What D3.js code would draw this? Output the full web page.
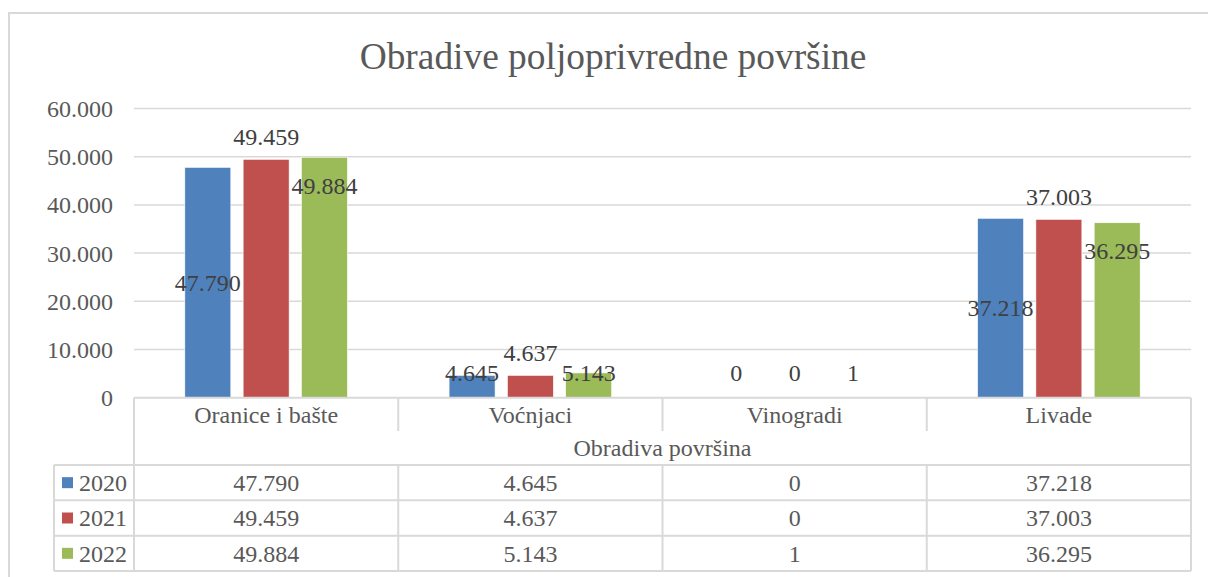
<!DOCTYPE html>
<html lang="en">
<head>
    <meta charset="UTF-8">
    <title>Obradive poljoprivredne površine</title>
    <script src="https://d3js.org/d3.v7.min.js"></script>
    <style>
        body {
            margin: 0;
            background: #ffffff;
        }

        .grid line {
            stroke: #d9d9d9;
            stroke-width: 1.5px;
        }

        .tbl {
            stroke: #d9d9d9;
            stroke-width: 2px;
        }

        .axis-label {
            fill: #595959;
        }

        .value-label {
            fill: #404040;
        }
    </style>
</head>
<body>
<div id="chart"></div>

<script>
    // data
    var chartTitle = "Obradive poljoprivredne površine";
    var groupLabel = "Obradiva površina";
    var categories = ["Oranice i bašte", "Voćnjaci", "Vinogradi", "Livade"];
    var years = ["2020", "2021", "2022"];
    var values2020 = [47790, 4645, 0, 37218];
    var values2021 = [49459, 4637, 0, 37003];
    var values2022 = [49884, 5143, 1, 36295];
    var yTicks = [0, 10000, 20000, 30000, 40000, 50000, 60000];
    var colors = ["#4f81bd", "#c0504d", "#9bbb59"];

    var seriesValues = [values2020, values2021, values2022];

    var w = 1208;
    var h = 577;

    var plotLeft = 134;
    var plotRight = 1191;
    var legendLeft = 54;

    var serif = "'Liberation Serif'";
    var fs = "24px";

    var fmt = d3.formatLocale({
        decimal: ",",
        thousands: ".",
        grouping: [3],
        currency: ["", ""]
    }).format(",d");

    var xScale = d3.scaleBand()
        .domain(categories)
        .range([plotLeft, plotRight]);

    var xSub = d3.scaleBand()
        .domain(years)
        .range([0, xScale.bandwidth()])
        .paddingInner(0.211)
        .paddingOuter(0.872);

    var yScale = d3.scaleLinear()
        .domain([0, 60000])
        .range([397.7, 108.5]);

    // table rows below the axis
    var catRowBottom = 431;
    var groupRowBottom = 465;
    var rowScale = d3.scaleBand()
        .domain(years)
        .range([groupRowBottom, 571]);

    var svg = d3.select("#chart")
        .append("svg")
        .attr("width", w)
        .attr("height", h);

    // outer border
    svg.append("rect")
        .attr("x", 9)
        .attr("y", 13)
        .attr("width", 1300)
        .attr("height", 700)
        .attr("fill", "none")
        .attr("stroke", "#d9d9d9")
        .attr("stroke-width", 2);

    svg.append("text")
        .attr("x", 613)
        .attr("y", 69)
        .attr("text-anchor", "middle")
        .style("font-family", serif)
        .style("font-size", "37.4px")
        .style("fill", "#595959")
        .text(chartTitle);

    // gridlines
    svg.append("g")
        .attr("class", "grid")
        .selectAll("line")
        .data(yTicks.slice(1))
        .join("line")
        .attr("x1", plotLeft)
        .attr("x2", plotRight)
        .attr("y1", function(d) { return yScale(d); })
        .attr("y2", function(d) { return yScale(d); });

    // y axis labels
    svg.append("g")
        .selectAll("text")
        .data(yTicks)
        .join("text")
        .attr("class", "axis-label")
        .style("font-family", serif)
        .style("font-size", fs)
        .attr("x", 113)
        .attr("y", function(d) { return yScale(d); })
        .attr("dy", "0.35em")
        .attr("text-anchor", "end")
        .text(function(d) { return fmt(d); });

    // bars
    var groups = svg.append("g")
        .selectAll("g")
        .data(seriesValues)
        .join("g")
        .attr("fill", function(d, i) { return colors[i]; });

    groups.selectAll("rect")
        .data(function(vals, i) {
            return vals.map(function(v, j) { return { cat: categories[j], year: years[i], value: v }; });
        })
        .join("rect")
        .attr("x", function(d) { return xScale(d.cat) + xSub(d.year); })
        .attr("width", xSub.bandwidth())
        .attr("y", function(d) { return yScale(d.value); })
        .attr("height", function(d) { return yScale(0) - yScale(d.value); })
        .attr("stroke", "#ffffff")
        .attr("stroke-width", 0.6);

    // data labels: 2020 centre, 2021 outside end, 2022 inside end
    var labelOffset = [null, -23, 28];
    var maxLabelY = yScale(0) - 25;

    groups.selectAll("text")
        .data(function(vals, i) {
            return vals.map(function(v, j) { return { cat: categories[j], year: years[i], value: v, s: i }; });
        })
        .join("text")
        .attr("class", "value-label")
        .style("font-family", serif)
        .style("font-size", fs)
        .attr("text-anchor", "middle")
        .attr("dy", "0.35em")
        .attr("x", function(d) { return xScale(d.cat) + xSub(d.year) + xSub.bandwidth() / 2; })
        .attr("y", function(d) {
            var y;
            if (d.s === 0) {
                y = (yScale(d.value) + yScale(0)) / 2;
            } else {
                y = yScale(d.value) + labelOffset[d.s];
            }
            return Math.min(y, maxLabelY);
        })
        .text(function(d) { return fmt(d.value); });

    // data table
    var tbl = svg.append("g");

    tbl.append("line").attr("class", "tbl")
        .attr("x1", plotLeft).attr("x2", plotRight)
        .attr("y1", yScale(0)).attr("y2", yScale(0));

    tbl.append("line").attr("class", "tbl")
        .attr("x1", plotLeft).attr("x2", plotLeft)
        .attr("y1", yScale(0)).attr("y2", rowScale.range()[1]);

    tbl.append("line").attr("class", "tbl")
        .attr("x1", plotRight).attr("x2", plotRight)
        .attr("y1", yScale(0)).attr("y2", rowScale.range()[1]);

    // category dividers (short in the header row, full in the value rows)
    tbl.selectAll(".cat-div")
        .data(categories.slice(1))
        .join("line")
        .attr("class", "tbl")
        .attr("x1", function(d) { return xScale(d); })
        .attr("x2", function(d) { return xScale(d); })
        .attr("y1", yScale(0))
        .attr("y2", catRowBottom);

    tbl.selectAll(".cat-div2")
        .data(categories.slice(1))
        .join("line")
        .attr("class", "tbl")
        .attr("x1", function(d) { return xScale(d); })
        .attr("x2", function(d) { return xScale(d); })
        .attr("y1", groupRowBottom)
        .attr("y2", rowScale.range()[1]);

    tbl.append("line").attr("class", "tbl")
        .attr("x1", legendLeft).attr("x2", legendLeft)
        .attr("y1", groupRowBottom).attr("y2", rowScale.range()[1]);

    tbl.selectAll(".row-line")
        .data(years)
        .join("line")
        .attr("class", "tbl")
        .attr("x1", legendLeft)
        .attr("x2", plotRight)
        .attr("y1", function(d) { return rowScale(d); })
        .attr("y2", function(d) { return rowScale(d); });

    tbl.append("line").attr("class", "tbl")
        .attr("x1", legendLeft).attr("x2", plotRight)
        .attr("y1", rowScale.range()[1]).attr("y2", rowScale.range()[1]);

    // category names
    tbl.selectAll(".cat-label")
        .data(categories)
        .join("text")
        .attr("class", "axis-label")
        .style("font-family", serif)
        .style("font-size", fs)
        .attr("text-anchor", "middle")
        .attr("dy", "0.35em")
        .attr("x", function(d) { return xScale(d) + xScale.bandwidth() / 2; })
        .attr("y", (yScale(0) + catRowBottom) / 2)
        .text(function(d) { return d; });

    tbl.append("text")
        .attr("class", "axis-label")
        .style("font-family", serif)
        .style("font-size", fs)
        .attr("text-anchor", "middle")
        .attr("dy", "0.35em")
        .attr("x", (plotLeft + plotRight) / 2)
        .attr("y", (catRowBottom + groupRowBottom) / 2)
        .text(groupLabel);

    // legend keys + year names
    years.forEach(function(yr, i) {
        var cy = rowScale(yr) + rowScale.bandwidth() / 2;
        tbl.append("rect")
            .attr("x", 62)
            .attr("y", cy - 5.5)
            .attr("width", 11)
            .attr("height", 11)
            .attr("fill", colors[i]);
        tbl.append("text")
            .attr("class", "axis-label")
            .style("font-family", serif)
            .style("font-size", fs)
            .attr("x", 79)
            .attr("y", cy)
            .attr("dy", "0.35em")
            .text(yr);

        tbl.selectAll(".cell-" + yr)
            .data(seriesValues[i])
            .join("text")
            .attr("class", "axis-label")
            .style("font-family", serif)
            .style("font-size", fs)
            .attr("text-anchor", "middle")
            .attr("dy", "0.35em")
            .attr("x", function(d, j) { return xScale(categories[j]) + xScale.bandwidth() / 2; })
            .attr("y", cy)
            .text(function(d) { return fmt(d); });
    });
</script>
</body>
</html>
